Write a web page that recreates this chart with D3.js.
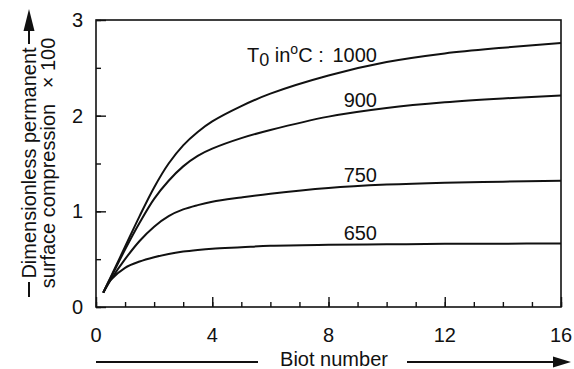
<!DOCTYPE html>
<html><head><meta charset="utf-8">
<script src="https://cdn.jsdelivr.net/npm/d3@7"></script>
<style>
body{margin:0;background:#fff;}
text{font-family:"Liberation Sans",Arial,Helvetica,sans-serif;fill:#111;}
</style></head>
<body><svg id="c" width="574" height="369"></svg>
<script>
const biot  = [0.25, 0.5, 1, 1.5, 2, 2.5, 3, 3.5, 4, 5, 6, 8, 10, 12, 14, 16];
const s1000 = [0.15, 0.31, 0.63, 0.95, 1.25, 1.50, 1.69, 1.83, 1.94, 2.10, 2.23, 2.42, 2.56, 2.65, 2.71, 2.76];
const s900  = [0.15, 0.30, 0.60, 0.88, 1.13, 1.32, 1.47, 1.58, 1.655, 1.765, 1.85, 1.99, 2.08, 2.14, 2.18, 2.21];
const s750  = [0.15, 0.28, 0.50, 0.69, 0.84, 0.95, 1.02, 1.065, 1.10, 1.145, 1.185, 1.245, 1.28, 1.30, 1.31, 1.32];
const s650  = [0.15, 0.28, 0.41, 0.475, 0.52, 0.555, 0.58, 0.597, 0.61, 0.625, 0.64, 0.65, 0.655, 0.66, 0.662, 0.665];
const seriesNames = ["1000", "900", "750", "650"];
const seriesVals = [s1000, s900, s750, s650];
const xTicks = [0, 4, 8, 12, 16];
const yTicks = [0, 1, 2, 3];

const svg = d3.select("#c");
const L = 96, R = 561, T = 20, B = 307;
const x = d3.scaleLinear().domain([0, 16]).range([L, R]);
const y = d3.scaleLinear().domain([0, 3]).range([B, T]);

// frame
svg.append("rect").attr("x", L).attr("y", T).attr("width", R - L).attr("height", B - T)
  .attr("fill", "none").attr("stroke", "#111").attr("stroke-width", 1.6);

// axes with inward ticks
const xMinor = d3.range(0, 17, 1);
const yMinor = d3.range(0, 3.01, 0.5);
svg.append("g").attr("transform", `translate(0,${B})`)
  .call(d3.axisTop(x).tickValues(xMinor).tickSize(5).tickFormat(""));
svg.append("g").attr("transform", `translate(0,${B})`)
  .call(d3.axisTop(x).tickValues(xTicks).tickSize(10).tickFormat(""));
svg.append("g").attr("transform", `translate(${L},0)`)
  .call(d3.axisRight(y).tickValues(yMinor).tickSize(5).tickFormat(""));
svg.append("g").attr("transform", `translate(${L},0)`)
  .call(d3.axisRight(y).tickValues(yTicks).tickSize(10).tickFormat(""));
svg.selectAll(".domain").remove();
svg.selectAll(".tick line").attr("stroke", "#111").attr("stroke-width", 1.4);

// tick labels
svg.append("g").selectAll("text").data(xTicks).join("text")
  .attr("x", d => x(d)).attr("y", 342).attr("text-anchor", "middle")
  .attr("font-size", 20).text(d => d);
svg.append("g").selectAll("text").data(yTicks).join("text")
  .attr("x", 83).attr("y", d => y(d) + 7).attr("text-anchor", "end")
  .attr("font-size", 20).text(d => d);

// curves
const line = d3.line().x((d, i) => x(biot[i])).y(d => y(d)).curve(d3.curveCatmullRom.alpha(0.5));
svg.append("g").selectAll("path").data(seriesVals).join("path")
  .attr("d", line).attr("fill", "none").attr("stroke", "#111").attr("stroke-width", 2);

// curve labels
const labY = [62, 107, 182, 240];
svg.append("g").selectAll("text").data(seriesNames).join("text")
  .attr("x", 377).attr("y", (d, i) => labY[i]).attr("text-anchor", "end")
  .attr("font-size", 20).text(d => d);
const t0 = svg.append("text").attr("x", 247).attr("y", 62).attr("font-size", 20);
t0.append("tspan").text("T");
t0.append("tspan").attr("dy", 4).attr("font-size", 18).text("0");
t0.append("tspan").attr("dy", -4).text(" in");
t0.append("tspan").attr("dy", -8).attr("font-size", 14).text("o");
t0.append("tspan").attr("dy", 8).text("C :");

// y title
const yt = svg.append("text").attr("transform", "translate(36,163) rotate(-90)")
  .attr("text-anchor", "middle").attr("font-size", 20);
yt.append("tspan").attr("x", 0).attr("y", 0).text("Dimensionless permanent");
yt.append("tspan").attr("x", 0).attr("y", 19).text("surface compression\u2002 \u00d7 100");

// y arrow
const ax = 29;
svg.append("line").attr("x1", ax).attr("x2", ax).attr("y1", 297).attr("y2", 282)
  .attr("stroke", "#111").attr("stroke-width", 2);
svg.append("line").attr("x1", ax).attr("x2", ax).attr("y1", 44).attr("y2", 26)
  .attr("stroke", "#111").attr("stroke-width", 2);
svg.append("path").attr("d", `M${ax},9 L${ax - 5.5},31 L${ax + 5.5},31 Z`).attr("fill", "#111");

// x title & arrow
svg.append("text").attr("x", 334).attr("y", 366).attr("text-anchor", "middle")
  .attr("font-size", 20).text("Biot number");
svg.append("line").attr("x1", 96).attr("x2", 258).attr("y1", 362).attr("y2", 362)
  .attr("stroke", "#111").attr("stroke-width", 2);
svg.append("line").attr("x1", 407).attr("x2", 556).attr("y1", 362).attr("y2", 362)
  .attr("stroke", "#111").attr("stroke-width", 2);
svg.append("path").attr("d", `M571,362 L553,356.5 L553,367.5 Z`).attr("fill", "#111");
</script></body></html>
